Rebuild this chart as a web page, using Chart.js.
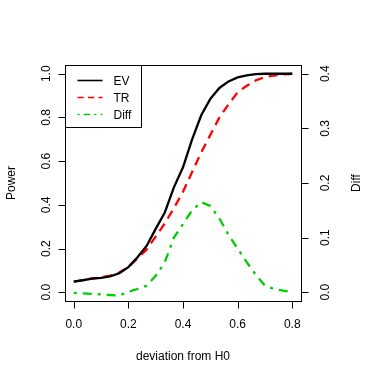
<!DOCTYPE html>
<html>
<head>
<meta charset="utf-8">
<script src="https://cdn.jsdelivr.net/npm/chart.js@4"></script>
<style>
  html, body { margin: 0; padding: 0; background: #fff; }
  #wrap { width: 382px; height: 382px; }
</style>
</head>
<body>
<div id="wrap"><canvas id="myChart" width="382" height="382"></canvas></div>
<script>
// deviation from H0, step 1/30
const deviation = [0, 1/30, 2/30, 3/30, 4/30, 5/30, 6/30, 7/30, 8/30, 9/30, 10/30, 11/30, 12/30,
    13/30, 14/30, 15/30, 16/30, 17/30, 18/30, 19/30, 20/30, 21/30, 22/30, 23/30, 24/30];
const powerEV = [0.049, 0.055, 0.062, 0.066, 0.073, 0.087, 0.115, 0.160, 0.212, 0.290, 0.365, 0.480, 0.572,
    0.700, 0.810, 0.885, 0.935, 0.965, 0.983, 0.993, 0.998, 1.000, 1.000, 1.000, 1.000];
const powerTR = [0.049, 0.056, 0.063, 0.068, 0.076, 0.090, 0.115, 0.155, 0.195, 0.255, 0.315, 0.385, 0.460,
    0.550, 0.640, 0.720, 0.800, 0.860, 0.915, 0.945, 0.970, 0.985, 0.992, 0.997, 1.000];
const diff = [-0.001, -0.002, -0.003, -0.004, -0.005, -0.006, 0.001, 0.006, 0.012, 0.030, 0.055, 0.100, 0.125,
    0.150, 0.165, 0.158, 0.135, 0.105, 0.080, 0.055, 0.032, 0.012, 0.006, 0.003, 0.000];

const xTicks = [0, 0.2, 0.4, 0.6, 0.8];
const powerTicks = [0, 0.2, 0.4, 0.6, 0.8, 1.0];
const diffTicks = [0, 0.1, 0.2, 0.3, 0.4];
const seriesNames = ['EV', 'TR', 'Diff'];

const FONT = '12px "Liberation Sans", Arial, sans-serif';
const styles = [
    { color: '#000000', dash: [] },
    { color: '#FF0000', dash: [9, 6] },
    { color: '#00CD00', dash: [3, 6, 9, 6] }
];

function pts(ys) {
    return deviation.map((x, i) => ({ x: x, y: ys[i] }));
}

// R-style box, axes and legend
const rAxes = {
    id: 'rAxes',
    afterDraw(chart) {
        const ctx = chart.ctx;
        const a = chart.chartArea;
        const sx = chart.scales.x, sy = chart.scales.y, sy2 = chart.scales.y2;
        const tl = 7;
        ctx.save();
        ctx.strokeStyle = '#000';
        ctx.fillStyle = '#000';
        ctx.lineWidth = 1;
        ctx.setLineDash([]);
        ctx.strokeRect(a.left + 0.5, a.top + 0.5, a.right - a.left, a.bottom - a.top);
        ctx.font = FONT;

        // x axis
        let y0 = a.bottom + 0.5;
        ctx.beginPath();
        ctx.moveTo(sx.getPixelForValue(xTicks[0]), y0);
        ctx.lineTo(sx.getPixelForValue(xTicks[xTicks.length - 1]), y0);
        xTicks.forEach(v => {
            const px = Math.round(sx.getPixelForValue(v)) + 0.5;
            ctx.moveTo(px, y0);
            ctx.lineTo(px, y0 + tl);
        });
        ctx.stroke();
        ctx.textAlign = 'center';
        ctx.textBaseline = 'middle';
        xTicks.forEach(v => ctx.fillText(v.toFixed(1), sx.getPixelForValue(v), 325));
        ctx.fillText('deviation from H0', (a.left + a.right) / 2, 357);

        // left axis
        let x0 = a.left + 0.5;
        ctx.beginPath();
        ctx.moveTo(x0, sy.getPixelForValue(powerTicks[0]));
        ctx.lineTo(x0, sy.getPixelForValue(powerTicks[powerTicks.length - 1]));
        powerTicks.forEach(v => {
            const py = Math.round(sy.getPixelForValue(v)) + 0.5;
            ctx.moveTo(x0, py);
            ctx.lineTo(x0 - tl, py);
        });
        ctx.stroke();
        powerTicks.forEach(v => {
            ctx.save();
            ctx.translate(47, sy.getPixelForValue(v));
            ctx.rotate(-Math.PI / 2);
            ctx.fillText(v.toFixed(1), 0, 0);
            ctx.restore();
        });
        ctx.save();
        ctx.translate(12, (a.top + a.bottom) / 2);
        ctx.rotate(-Math.PI / 2);
        ctx.fillText('Power', 0, 0);
        ctx.restore();

        // right axis
        x0 = a.right + 0.5;
        ctx.beginPath();
        ctx.moveTo(x0, sy2.getPixelForValue(diffTicks[0]));
        ctx.lineTo(x0, sy2.getPixelForValue(diffTicks[diffTicks.length - 1]));
        diffTicks.forEach(v => {
            const py = Math.round(sy2.getPixelForValue(v)) + 0.5;
            ctx.moveTo(x0, py);
            ctx.lineTo(x0 + tl, py);
        });
        ctx.stroke();
        diffTicks.forEach(v => {
            ctx.save();
            ctx.translate(326, sy2.getPixelForValue(v));
            ctx.rotate(-Math.PI / 2);
            ctx.fillText(v.toFixed(1), 0, 0);
            ctx.restore();
        });
        ctx.save();
        ctx.translate(357, (a.top + a.bottom) / 2);
        ctx.rotate(-Math.PI / 2);
        ctx.fillText('Diff', 0, 0);
        ctx.restore();

        // legend
        const lx = a.left + 0.5, ly = a.top + 0.5;
        ctx.fillStyle = '#fff';
        ctx.fillRect(lx, ly, 76, 62);
        ctx.strokeRect(lx, ly, 76, 62);
        ctx.textAlign = 'left';
        seriesNames.forEach((name, i) => {
            const yy = ly + 15 + i * 17;
            ctx.strokeStyle = styles[i].color;
            ctx.lineWidth = 1.6;
            ctx.setLineDash(styles[i].dash.map(d => d * 0.7));
            ctx.beginPath();
            ctx.moveTo(lx + 12, yy);
            ctx.lineTo(lx + 37, yy);
            ctx.stroke();
            ctx.fillStyle = '#000';
            ctx.fillText(name, lx + 48, yy + 1);
        });
        ctx.restore();
    }
};

new Chart(document.getElementById('myChart'), {
    type: 'line',
    data: {
        datasets: [
            { label: 'EV', data: pts(powerEV), yAxisID: 'y' },
            { label: 'TR', data: pts(powerTR), yAxisID: 'y' },
            { label: 'Diff', data: pts(diff), yAxisID: 'y2' }
        ].map((d, i) => Object.assign(d, {
            borderColor: styles[i].color,
            borderDash: styles[i].dash,
            borderWidth: 2.3,
            pointRadius: 0,
            tension: 0,
            fill: false
        }))
    },
    options: {
        responsive: false,
        animation: false,
        layout: { padding: { left: 65, top: 65, right: 81, bottom: 81 } },
        plugins: { legend: { display: false }, tooltip: { enabled: false } },
        scales: {
            x: { type: 'linear', min: -0.032, max: 0.832, display: false },
            y: { min: -0.04, max: 1.04, display: false },
            y2: { min: -0.016, max: 0.416, display: false, position: 'right' }
        }
    },
    plugins: [rAxes]
});
</script>
</body>
</html>
